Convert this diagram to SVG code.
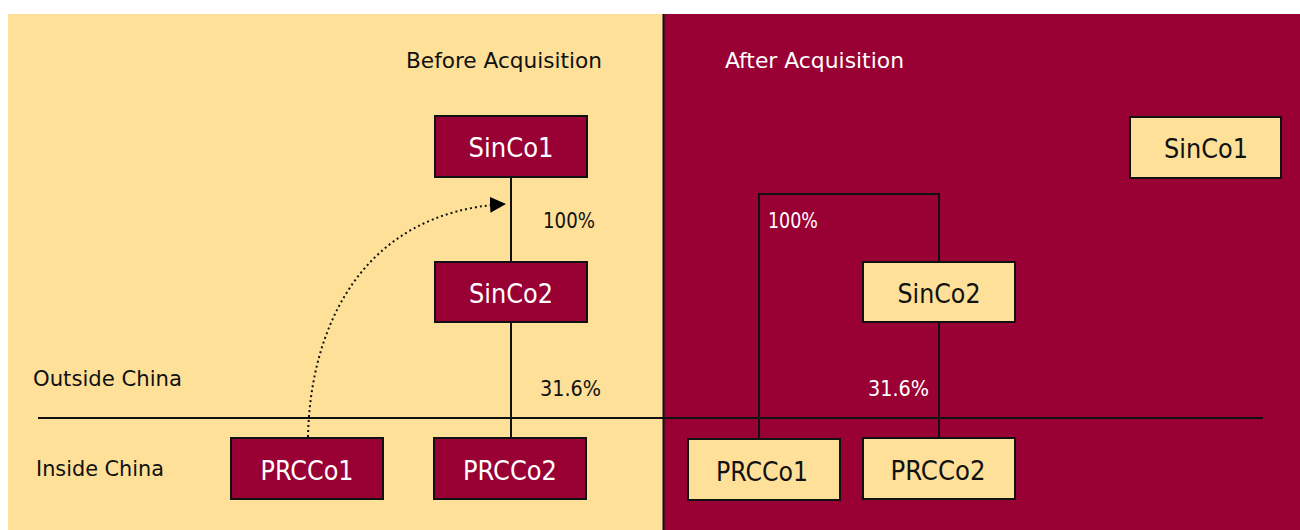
<svg xmlns="http://www.w3.org/2000/svg" width="1300" height="530" viewBox="0 0 1300 530">
<style>
text{font-family:"DejaVu Sans Condensed","DejaVu Sans","Liberation Sans Narrow",sans-serif;font-stretch:condensed}
.lbl{font-size:21px}
.box{font-size:26px;text-anchor:middle}
.dk rect{fill:#990033;stroke:#111;stroke-width:2}
.dk text{fill:#fff}
.lt rect{fill:#FFE099;stroke:#111;stroke-width:2}
.lt text{fill:#111}
.ln{stroke:#111;stroke-width:2;fill:none}
</style>
<defs>
<marker id="ah" markerWidth="16" markerHeight="16" refX="15" refY="8" orient="auto" markerUnits="userSpaceOnUse">
<path d="M0,0 L16,8 L0,16 Z" fill="#000"/>
</marker>
</defs>
<rect x="0" y="0" width="1300" height="530" fill="#fff"/>
<rect x="8" y="14" width="655" height="516" fill="#FFE099"/>
<rect x="663" y="14" width="637" height="516" fill="#990033"/>
<line x1="663.5" y1="14" x2="663.5" y2="530" stroke="#111" stroke-width="2"/>

<text class="lbl" x="406" y="68" fill="#111" textLength="196" lengthAdjust="spacingAndGlyphs">Before Acquisition</text>
<text class="lbl" x="725" y="68" fill="#fff" textLength="179" lengthAdjust="spacingAndGlyphs">After Acquisition</text>
<text class="lbl" x="33" y="386" fill="#111" textLength="149" lengthAdjust="spacingAndGlyphs">Outside China</text>
<text class="lbl" x="36" y="476" fill="#111" textLength="128" lengthAdjust="spacingAndGlyphs">Inside China</text>

<g id="connectors">
<line class="ln" x1="38" y1="418" x2="1263" y2="418"/>
<line class="ln" x1="511" y1="177" x2="511" y2="262"/>
<line class="ln" x1="511" y1="322" x2="511" y2="438"/>
<path d="M308,437 C310,330 360,212 505,204" fill="none" stroke="#111" stroke-width="2" stroke-dasharray="2,3" marker-end="url(#ah)"/>
<polyline class="ln" points="759,438 759,194 939,194 939,262"/>
<line class="ln" x1="939" y1="322" x2="939" y2="438"/>
</g>
<text class="lbl" x="543" y="228" fill="#111" textLength="52" lengthAdjust="spacingAndGlyphs">100%</text>
<text class="lbl" x="540" y="396" fill="#111" textLength="61" lengthAdjust="spacingAndGlyphs">31.6%</text>
<text class="lbl" x="768" y="228" fill="#fff" textLength="50" lengthAdjust="spacingAndGlyphs">100%</text>
<text class="lbl" x="868" y="396" fill="#fff" textLength="61" lengthAdjust="spacingAndGlyphs">31.6%</text>

<g id="L-SinCo1" class="dk"><rect x="435" y="116" width="152" height="61"/><text class="box" x="511" y="157" textLength="85" lengthAdjust="spacingAndGlyphs">SinCo1</text></g>
<g id="L-SinCo2" class="dk"><rect x="435" y="262" width="152" height="60"/><text class="box" x="511" y="303" textLength="84" lengthAdjust="spacingAndGlyphs">SinCo2</text></g>
<g id="L-PRCCo1" class="dk"><rect x="231" y="438" width="152" height="61"/><text class="box" x="307" y="480" textLength="93" lengthAdjust="spacingAndGlyphs">PRCCo1</text></g>
<g id="L-PRCCo2" class="dk"><rect x="434" y="438" width="152" height="61"/><text class="box" x="510" y="480" textLength="94" lengthAdjust="spacingAndGlyphs">PRCCo2</text></g>

<g id="R-SinCo1" class="lt"><rect x="1130" y="117" width="151" height="61"/><text class="box" x="1206" y="158" textLength="84" lengthAdjust="spacingAndGlyphs">SinCo1</text></g>
<g id="R-SinCo2" class="lt"><rect x="863" y="262" width="152" height="60"/><text class="box" x="939" y="303" textLength="83" lengthAdjust="spacingAndGlyphs">SinCo2</text></g>
<g id="R-PRCCo1" class="lt"><rect x="688" y="439" width="152" height="61"/><text class="box" x="762" y="481" textLength="92" lengthAdjust="spacingAndGlyphs">PRCCo1</text></g>
<g id="R-PRCCo2" class="lt"><rect x="863" y="438" width="152" height="61"/><text class="box" x="938" y="480" textLength="95" lengthAdjust="spacingAndGlyphs">PRCCo2</text></g>
</svg>
